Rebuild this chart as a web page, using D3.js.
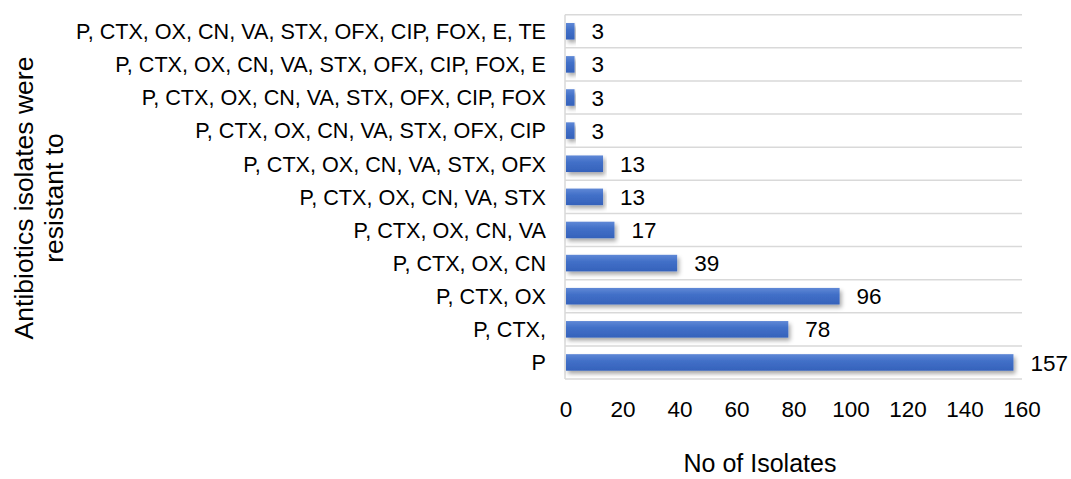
<!DOCTYPE html>
<html>
<head>
<meta charset="utf-8">
<script src="https://cdn.jsdelivr.net/npm/d3@7"></script>
<style>
  body { margin: 0; background: #fff; }
  text { font-family: "Liberation Sans", Arial, sans-serif; fill: #000; }
</style>
</head>
<body>
<svg id="chart" width="1071" height="479"></svg>
<script>
// bottom to top, as in the picture
const combos = [
    "P",
    "P, CTX,",
    "P, CTX, OX",
    "P, CTX, OX, CN",
    "P, CTX, OX, CN, VA",
    "P, CTX, OX, CN, VA, STX",
    "P, CTX, OX, CN, VA, STX, OFX",
    "P, CTX, OX, CN, VA, STX, OFX, CIP",
    "P, CTX, OX, CN, VA, STX, OFX, CIP, FOX",
    "P, CTX, OX, CN, VA, STX, OFX, CIP, FOX, E",
    "P, CTX, OX, CN, VA, STX, OFX, CIP, FOX, E, TE"
];
const isolates = [157, 78, 96, 39, 17, 13, 13, 3, 3, 3, 3];
const xTicks = [0, 20, 40, 60, 80, 100, 120, 140, 160];

const svg = d3.select("#chart");
const plotLeft = 566, plotRight = 1022, plotTop = 14.7, plotBottom = 379;

const x = d3.scaleLinear().domain([0, 160]).range([plotLeft, plotRight]);
const y = d3.scaleBand().domain(combos).range([plotBottom, plotTop]).paddingInner(0.5).paddingOuter(0.25);

const defs = svg.append("defs");
const grad = defs.append("linearGradient")
    .attr("id", "barGrad")
    .attr("x1", 0).attr("y1", 0).attr("x2", 0).attr("y2", 1);
grad.append("stop").attr("offset", "0%").attr("stop-color", "#5f88d6");
grad.append("stop").attr("offset", "40%").attr("stop-color", "#4270c8");
grad.append("stop").attr("offset", "100%").attr("stop-color", "#3562bb");

const shadow = defs.append("filter")
    .attr("id", "shadow")
    .attr("x", "-5%").attr("y", "-50%").attr("width", "115%").attr("height", "220%");
shadow.append("feDropShadow")
    .attr("dx", 2).attr("dy", 3).attr("stdDeviation", 2)
    .attr("flood-color", "#000").attr("flood-opacity", 0.35);

// horizontal row lines
const rowEdges = combos.map((c, i) => plotBottom - i * y.step()).concat([plotTop]);
svg.append("g")
    .selectAll("line")
    .data(rowEdges)
    .enter()
    .append("line")
    .attr("x1", plotLeft - 1)
    .attr("x2", plotRight)
    .attr("y1", (d) => d)
    .attr("y2", (d) => d)
    .attr("stroke", "#d9d9d9")
    .attr("stroke-width", 1.5);

// left axis line
svg.append("line")
    .attr("x1", plotLeft - 1).attr("x2", plotLeft - 1)
    .attr("y1", plotTop).attr("y2", plotBottom)
    .attr("stroke", "#d9d9d9")
    .attr("stroke-width", 1.5);

// bars
svg.append("g")
    .selectAll("rect")
    .data(combos)
    .enter()
    .append("rect")
    .attr("x", x(0))
    .attr("y", (d) => y(d))
    .attr("height", y.bandwidth())
    .attr("width", (d, i) => x(isolates[i]) - x(0))
    .attr("fill", "url(#barGrad)")
    .attr("filter", "url(#shadow)");

// value labels
svg.append("g")
    .selectAll("text")
    .data(combos)
    .enter()
    .append("text")
    .attr("x", (d, i) => x(isolates[i]) + 17)
    .attr("y", (d) => y(d) + y.bandwidth() / 2)
    .attr("dy", "0.36em")
    .style("font-size", "22.5px")
    .text((d, i) => isolates[i]);

// category labels
svg.append("g")
    .selectAll("text")
    .data(combos)
    .enter()
    .append("text")
    .attr("x", 546)
    .attr("y", (d) => y(d) + y.bandwidth() / 2)
    .attr("dy", "0.36em")
    .attr("text-anchor", "end")
    .style("font-size", "21.6px")
    .text((d) => d);

// x tick labels
svg.append("g")
    .selectAll("text")
    .data(xTicks)
    .enter()
    .append("text")
    .attr("x", (d) => x(d))
    .attr("y", 417)
    .attr("text-anchor", "middle")
    .style("font-size", "22.5px")
    .text((d) => d);

// axis titles
svg.append("text")
    .attr("x", 760)
    .attr("y", 472)
    .attr("text-anchor", "middle")
    .style("font-size", "25px")
    .text("No of Isolates");

const yTitle = svg.append("text")
    .attr("transform", "translate(0,198) rotate(-90)")
    .attr("text-anchor", "middle")
    .style("font-size", "26.5px");
yTitle.append("tspan").attr("x", 0).attr("y", 33).text("Antibiotics isolates were");
yTitle.append("tspan").attr("x", 0).attr("y", 63).text("resistant to");
</script>
</body>
</html>
